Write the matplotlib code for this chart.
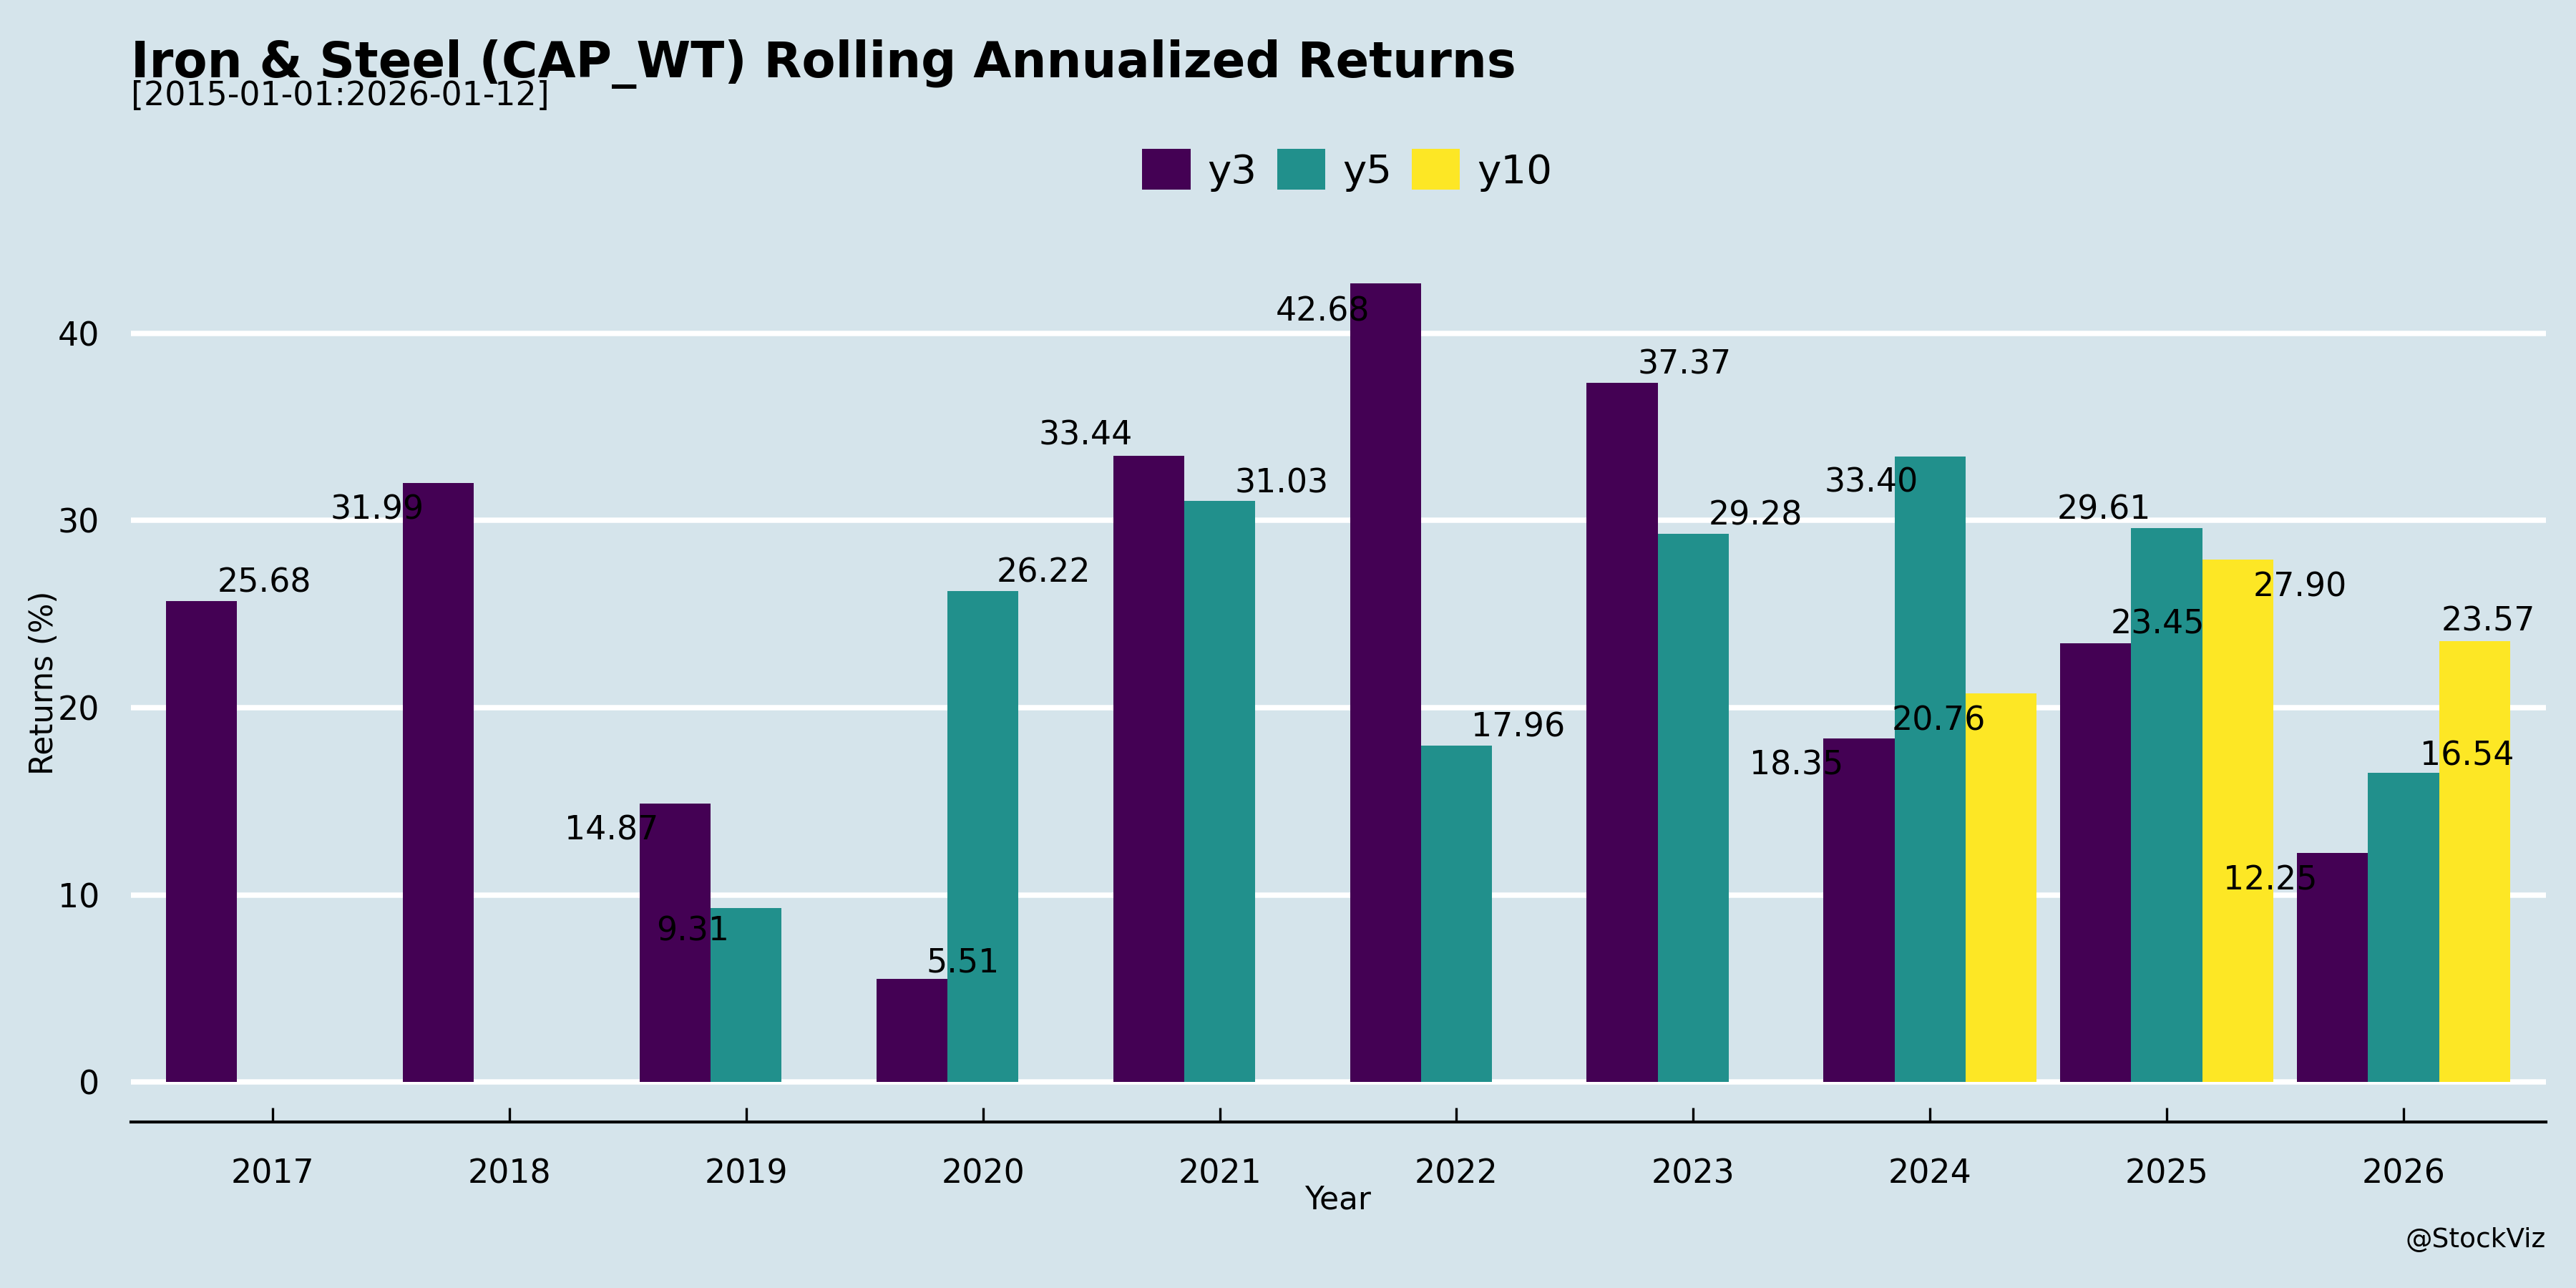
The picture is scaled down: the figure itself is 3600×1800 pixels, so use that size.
import numpy as np
import matplotlib.pyplot as plt

years = ['2017', '2018', '2019', '2020', '2021', '2022', '2023', '2024', '2025', '2026']
nan = np.nan
y3 = [25.68, 31.99, 14.87, 5.51, 33.44, 42.68, 37.37, 18.35, 23.45, 12.25]
y5 = [nan, nan, 9.31, 26.22, 31.03, 17.96, 29.28, 33.40, 29.61, 16.54]
y10 = [nan, nan, nan, nan, nan, nan, nan, 20.76, 27.90, 23.57]

series_names = ['y3', 'y5', 'y10']
colors = ['#440154', '#21908C', '#FDE725']

# label nudges (x relative to bar centre, y in % points) as they sit in the original
label_dx = [
    [0.265, -0.26, -0.27, 0.215, -0.267, -0.264, 0.264, -0.265, 0.261, -0.262],
    [nan, nan, -0.226, 0.256, 0.262, 0.26, 0.264, -0.248, -0.265, 0.268],
    [nan, nan, nan, nan, nan, nan, nan, -0.264, 0.264, 0.057],
]
label_dy = [
    [1.18, -1.23, -1.24, 1.03, 1.27, -1.33, 1.15, -1.26, 1.17, -1.28],
    [nan, nan, -1.06, 1.17, 1.14, 1.16, 1.17, -1.2, 1.15, 1.08],
    [nan, nan, nan, nan, nan, nan, nan, -1.27, -1.28, 1.22],
]

bg = '#d5e4eb'
fig = plt.figure(figsize=(12, 6), dpi=300, facecolor=bg)
ax = fig.add_axes([0.0507, 0.1288, 0.9375, 0.6824])
ax.set_facecolor(bg)

x = np.arange(1, len(years) + 1)
width = 0.3
for i, (name, vals, color) in enumerate(zip(series_names, [y3, y5, y10], colors)):
    pos = x + (i - 1) * width
    ax.bar(pos, vals, width, color=color, label=name)
    for j, v in enumerate(vals):
        if np.isnan(v):
            continue
        ax.text(pos[j] + label_dx[i][j], v + label_dy[i][j] - 0.2, f'{v:.2f}',
                ha='center', va='center', fontsize=11, color='black')

ax.set_xlim(0.4, 10.6)
ax.set_ylim(-2.134, 44.814)
ax.set_xticks(x)
ax.set_xticklabels(years)
ax.set_yticks([0, 10, 20, 30, 40])

for s in ['left', 'right', 'top']:
    ax.spines[s].set_visible(False)
ax.spines['bottom'].set_color('black')
ax.spines['bottom'].set_linewidth(1.0)

ax.yaxis.grid(True, color='white', linewidth=1.8)
ax.set_axisbelow(True)
ax.tick_params(axis='y', length=0, pad=10.4, labelsize=11)
ax.tick_params(axis='x', direction='in', length=4.8, width=0.8, pad=12, labelsize=11)

ax.set_xlabel('Year', fontsize=10.5)
ax.xaxis.set_label_coords(0.5, -0.0715)
ax.set_ylabel('Returns (%)', fontsize=10.5)
ax.yaxis.set_label_coords(-0.0295, 0.5)

fig.legend(loc='center', bbox_to_anchor=(0.523, 0.868), ncol=3, frameon=False,
           fontsize=13.5, handlelength=1.2, handleheight=1.2,
           handletextpad=0.42, columnspacing=0.5)

fig.text(0.0507, 0.94, 'Iron & Steel (CAP_WT) Rolling Annualized Returns',
         fontsize=16.5, fontweight='bold', va='baseline')
fig.text(0.0507, 0.9185, '[2015-01-01:2026-01-12]', fontsize=11, va='baseline')
fig.text(0.9882, 0.0317, '@StockViz', ha='right', va='baseline', fontsize=9)

fig.savefig('out.png', dpi=300, facecolor=fig.get_facecolor())
